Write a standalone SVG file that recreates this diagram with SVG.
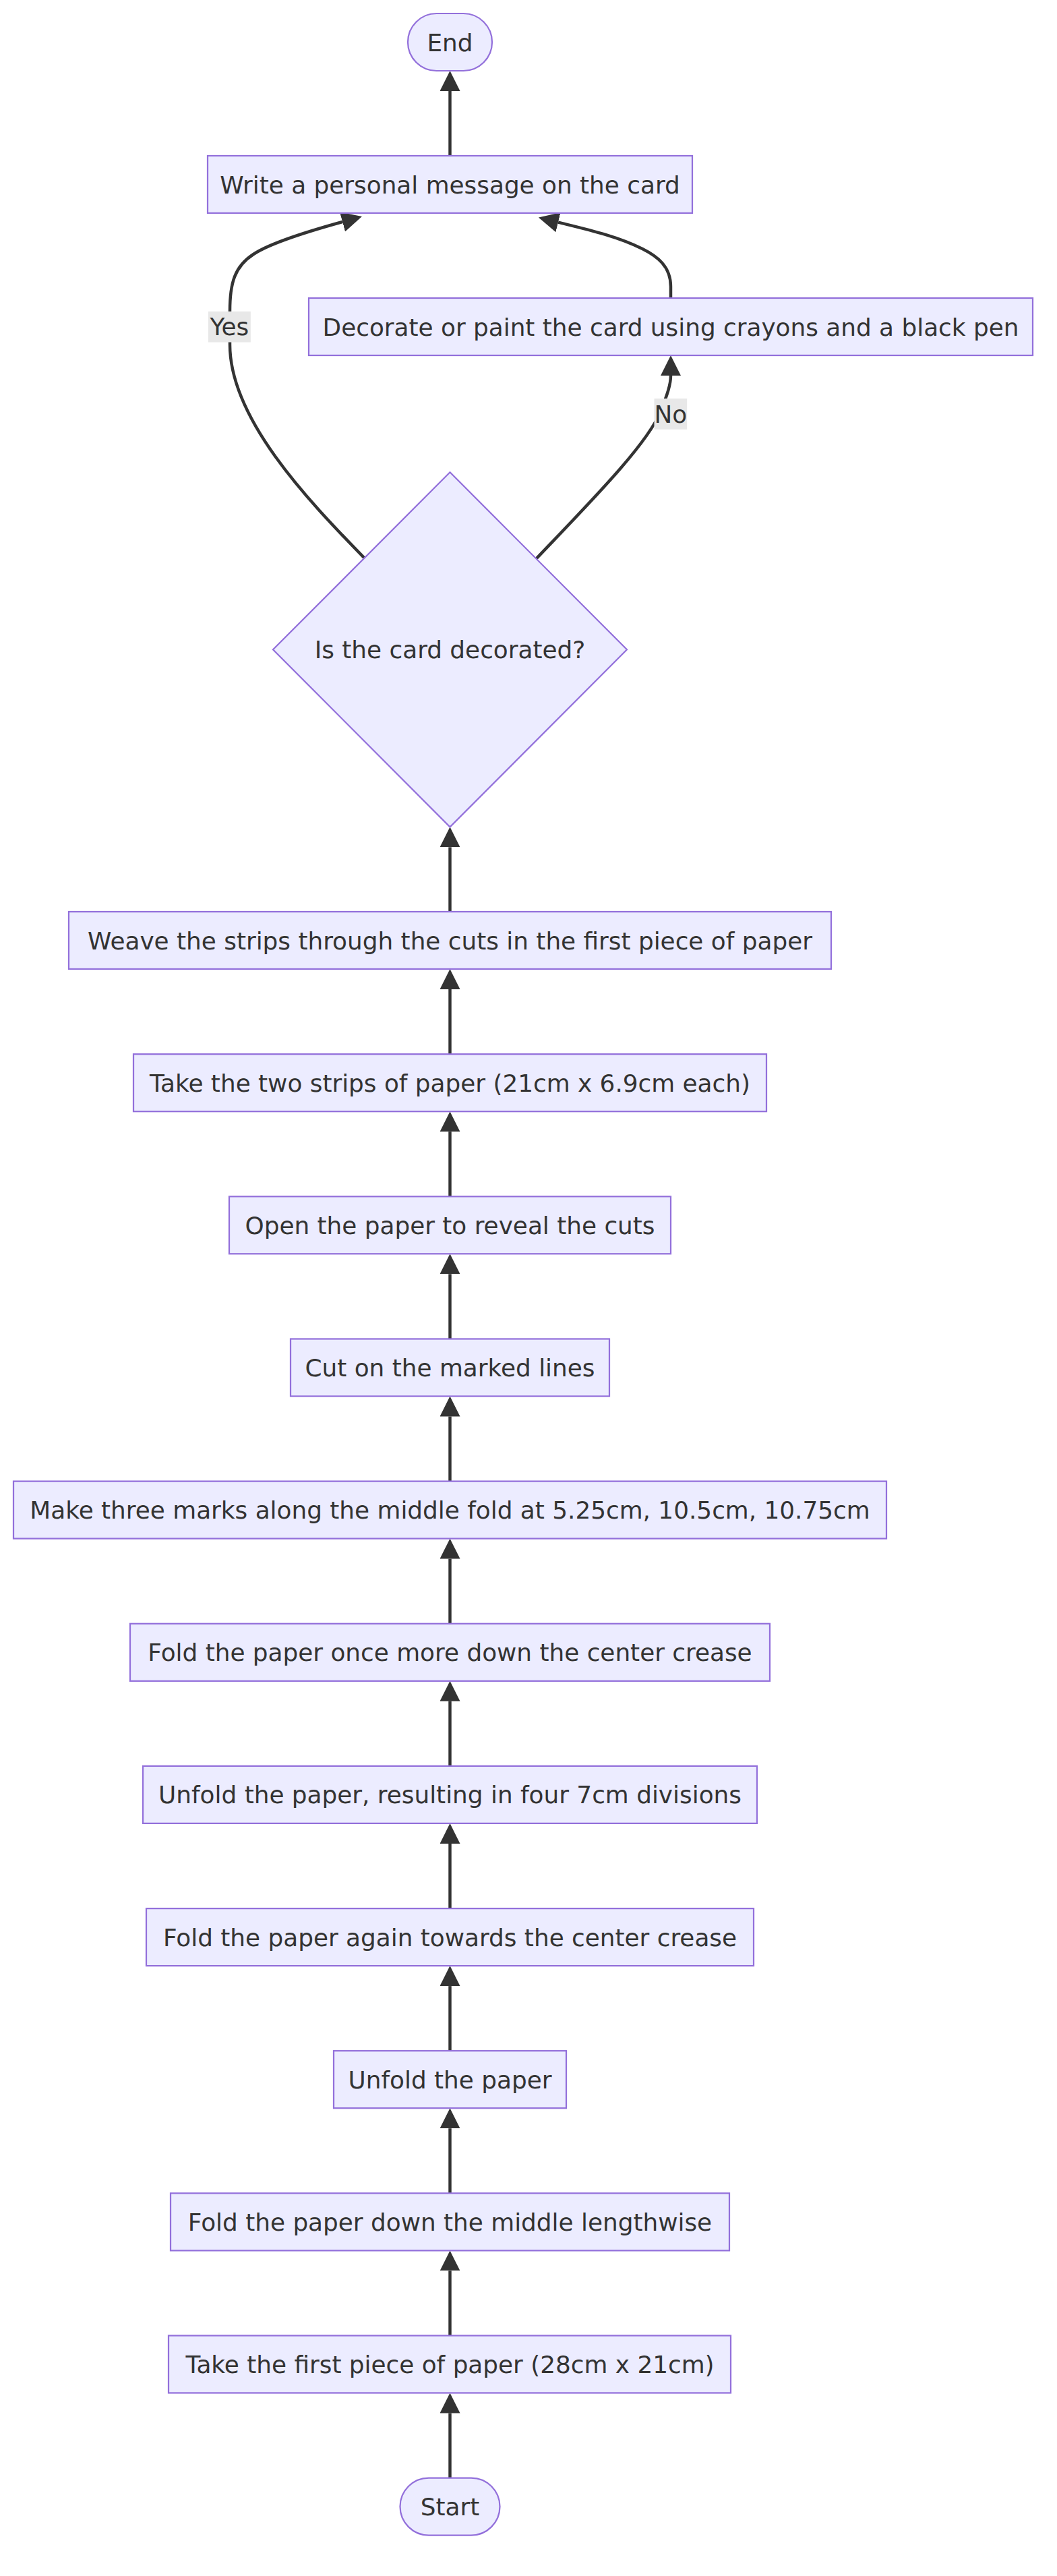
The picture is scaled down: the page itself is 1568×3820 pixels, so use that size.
<svg xmlns="http://www.w3.org/2000/svg" width="1568" height="3820" viewBox="0 0 1568 3820">
<style>
.node rect, .node polygon { fill: #ECECFF; stroke: #9370DB; stroke-width: 2.24; }
.node text, .elabel text { font-family: "DejaVu Sans", Verdana, sans-serif; font-size: 35.84px; fill: #333333; text-anchor: middle; }
.edges path { fill: none; stroke: #333333; stroke-width: 4.48; }
.elabel rect { fill: #E8E8E8; }
</style>
<defs>
<marker id="arrow" viewBox="0 0 10 10" refX="0" refY="5" markerUnits="userSpaceOnUse" markerWidth="30" markerHeight="30" orient="auto">
<path d="M0,0 L10,5 L0,10 z" fill="#333333"/>
</marker>
</defs>
<rect x="0" y="0" width="1568" height="3820" fill="#FFFFFF"/>
<g id="edges" class="edges">
<path marker-end="url(#arrow)" d="M667.5,3674.6 L667.5,3578.5"/>
<path marker-end="url(#arrow)" d="M667.5,3463.5 L667.5,3367.4"/>
<path marker-end="url(#arrow)" d="M667.5,3252.4 L667.5,3156.2"/>
<path marker-end="url(#arrow)" d="M667.5,3041.2 L667.5,2945.1"/>
<path marker-end="url(#arrow)" d="M667.5,2830.1 L667.5,2733.9"/>
<path marker-end="url(#arrow)" d="M667.5,2618.9 L667.5,2522.8"/>
<path marker-end="url(#arrow)" d="M667.5,2407.8 L667.5,2311.6"/>
<path marker-end="url(#arrow)" d="M667.5,2196.6 L667.5,2100.5"/>
<path marker-end="url(#arrow)" d="M667.5,1985.5 L667.5,1889.3"/>
<path marker-end="url(#arrow)" d="M667.5,1774.3 L667.5,1678.2"/>
<path marker-end="url(#arrow)" d="M667.5,1563.2 L667.5,1467"/>
<path marker-end="url(#arrow)" d="M667.5,1352 L667.5,1256.3"/>
<path marker-end="url(#arrow)" d="M540,827 C455,740 341,620 341,511 L341,461 C341,420 348,395 376,377 C400,361 450,345 508,329"/>
<path marker-end="url(#arrow)" d="M796,828 C870,750 960,660 980,610 C990,585 995,570 995,557"/>
<path marker-end="url(#arrow)" d="M995,442 L995,425 C995,395 975,380 953,369 C915,350 870,340 828,329.6"/>
<path marker-end="url(#arrow)" d="M667.5,231 L667.5,135"/>
</g>
<g id="label-yes" class="elabel">
<rect x="308.8" y="461.8" width="63" height="45.7"/>
<text x="340.3" y="497">Yes</text>
</g>
<g id="label-no" class="elabel">
<rect x="970.5" y="591" width="48.7" height="45.8"/>
<text x="994.8" y="626.5">No</text>
</g>
<g id="end" class="node">
<rect x="605" y="20" width="125" height="85" rx="42.5" ry="42.5"/>
<text x="667.5" y="75.5">End</text>
</g>
<g id="write" class="node">
<rect x="308" y="231" width="719" height="85"/>
<text x="667.5" y="286.5">Write a personal message on the card</text>
</g>
<g id="decorate" class="node">
<rect x="458" y="442" width="1074" height="85"/>
<text x="995" y="497.5">Decorate or paint the card using crayons and a black pen</text>
</g>
<g id="decision" class="node">
<polygon points="667.5,700.3 930,963.3 667.5,1226.3 405,963.3"/>
<text x="667.5" y="976.3">Is the card decorated?</text>
</g>
<g id="weave" class="node">
<rect x="102" y="1352" width="1131" height="85"/>
<text x="667.5" y="1407.5">Weave the strips through the cuts in the first piece of paper</text>
</g>
<g id="take-strips" class="node">
<rect x="198" y="1563.2" width="939" height="85"/>
<text x="667.5" y="1618.7">Take the two strips of paper (21cm x 6.9cm each)</text>
</g>
<g id="open" class="node">
<rect x="340" y="1774.3" width="655" height="85"/>
<text x="667.5" y="1829.8">Open the paper to reveal the cuts</text>
</g>
<g id="cut" class="node">
<rect x="431" y="1985.5" width="473" height="85"/>
<text x="667.5" y="2041">Cut on the marked lines</text>
</g>
<g id="marks" class="node">
<rect x="20" y="2196.6" width="1295" height="85"/>
<text x="667.5" y="2252.1">Make three marks along the middle fold at 5.25cm, 10.5cm, 10.75cm</text>
</g>
<g id="fold-once" class="node">
<rect x="193" y="2407.8" width="949" height="85"/>
<text x="667.5" y="2463.3">Fold the paper once more down the center crease</text>
</g>
<g id="unfold-four" class="node">
<rect x="212" y="2618.9" width="911" height="85"/>
<text x="667.5" y="2674.4">Unfold the paper, resulting in four 7cm divisions</text>
</g>
<g id="fold-again" class="node">
<rect x="217" y="2830.1" width="901" height="85"/>
<text x="667.5" y="2885.6">Fold the paper again towards the center crease</text>
</g>
<g id="unfold" class="node">
<rect x="495" y="3041.2" width="345" height="85"/>
<text x="667.5" y="3096.7">Unfold the paper</text>
</g>
<g id="fold-middle" class="node">
<rect x="253" y="3252.4" width="829" height="85"/>
<text x="667.5" y="3307.9">Fold the paper down the middle lengthwise</text>
</g>
<g id="take-first" class="node">
<rect x="250" y="3463.5" width="834" height="85"/>
<text x="667.5" y="3519">Take the first piece of paper (28cm x 21cm)</text>
</g>
<g id="start" class="node">
<rect x="593.5" y="3674.6" width="148" height="85" rx="42.5" ry="42.5"/>
<text x="667.5" y="3730.1">Start</text>
</g>
</svg>
